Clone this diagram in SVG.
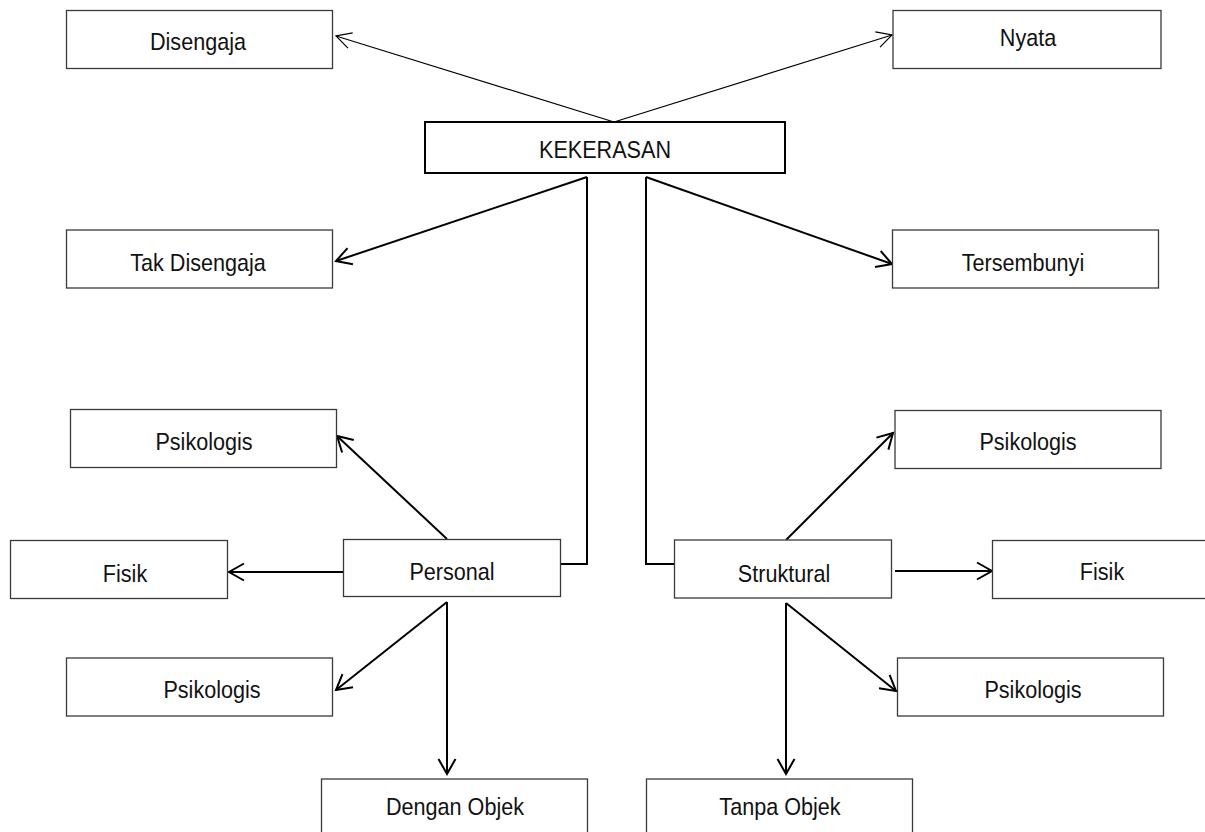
<svg xmlns="http://www.w3.org/2000/svg" width="1205" height="832" viewBox="0 0 1205 832">
<style>
.box{fill:#fff;stroke:#3a3a3a;stroke-width:1.3}
.main{fill:#fff;stroke:#000;stroke-width:2}
.t{font-family:"Liberation Sans",Arial,sans-serif;font-size:24px;fill:#111;text-anchor:middle}
.thin{fill:none;stroke:#000;stroke-width:1.2;marker-end:url(#ah1)}
.thick{fill:none;stroke:#000;stroke-width:2;marker-end:url(#ah2)}
.elbow{fill:none;stroke:#000;stroke-width:2}
</style>
<defs>
<marker id="ah1" markerUnits="userSpaceOnUse" markerWidth="22" markerHeight="22" viewBox="0 0 22 22" refX="18" refY="11" orient="auto">
<path d="M3,3 L18,11 L3,19" fill="none" stroke="#000" stroke-width="1.2"/>
</marker>
<marker id="ah2" markerUnits="userSpaceOnUse" markerWidth="22" markerHeight="22" viewBox="0 0 22 22" refX="18" refY="11" orient="auto">
<path d="M3,2.5 L18,11 L3,19.5" fill="none" stroke="#000" stroke-width="2"/>
</marker>
</defs>
<rect width="1205" height="832" fill="#fff"/>
<g id="connectors">
<path class="thin" d="M614,122 L336,36"/>
<path class="thin" d="M614,122 L892,35"/>
<path class="thick" d="M587,177 L336,261"/>
<path class="thick" d="M646,177 L892,264"/>
<path class="elbow" d="M587,177 L587,564 L561,564"/>
<path class="elbow" d="M646,177 L646,564 L675,564"/>
<path class="thick" d="M447,539 L337,436"/>
<path class="thick" d="M343,572 L229,572"/>
<path class="thick" d="M447,602 L336,690"/>
<path class="thick" d="M447,602 L447,774"/>
<path class="thick" d="M786,540 L893,433"/>
<path class="thick" d="M895,571 L992,571"/>
<path class="thick" d="M786,603 L896,691"/>
<path class="thick" d="M786,603 L786,774"/>
</g>
<g id="disengaja"><rect class="box" x="66.5" y="10.5" width="266" height="58"/><text class="t" transform="translate(198 50) scale(0.9 1)">Disengaja</text></g>
<g id="nyata"><rect class="box" x="893" y="10.5" width="268" height="58"/><text class="t" transform="translate(1028 46) scale(0.9 1)">Nyata</text></g>
<g id="kekerasan"><rect class="main" x="425" y="122" width="360" height="51"/><text class="t" transform="translate(605 158) scale(0.9 1)">KEKERASAN</text></g>
<g id="tak-disengaja"><rect class="box" x="66.5" y="230" width="266" height="58"/><text class="t" transform="translate(198 271) scale(0.9 1)">Tak Disengaja</text></g>
<g id="tersembunyi"><rect class="box" x="892.5" y="230" width="266" height="58"/><text class="t" transform="translate(1023 271) scale(0.9 1)">Tersembunyi</text></g>
<g id="psikologis-tl"><rect class="box" x="70.5" y="409.5" width="266" height="58"/><text class="t" transform="translate(204 450) scale(0.9 1)">Psikologis</text></g>
<g id="fisik-l"><rect class="box" x="10.5" y="540.5" width="217" height="58"/><text class="t" transform="translate(125 582) scale(0.9 1)">Fisik</text></g>
<g id="personal"><rect class="box" x="343.5" y="539.5" width="217" height="57"/><text class="t" transform="translate(452 580) scale(0.9 1)">Personal</text></g>
<g id="psikologis-bl"><rect class="box" x="66.5" y="658" width="266" height="58"/><text class="t" transform="translate(212 698) scale(0.9 1)">Psikologis</text></g>
<g id="dengan-objek"><rect class="box" x="321.5" y="779" width="266" height="62"/><text class="t" transform="translate(455 815) scale(0.9 1)">Dengan Objek</text></g>
<g id="psikologis-tr"><rect class="box" x="895" y="410.5" width="266" height="58"/><text class="t" transform="translate(1028 450) scale(0.9 1)">Psikologis</text></g>
<g id="struktural"><rect class="box" x="674.5" y="540" width="217" height="58"/><text class="t" transform="translate(784 582) scale(0.9 1)">Struktural</text></g>
<g id="fisik-r"><rect class="box" x="992.5" y="540.5" width="222" height="58"/><text class="t" transform="translate(1102 580) scale(0.9 1)">Fisik</text></g>
<g id="psikologis-br"><rect class="box" x="897.5" y="658" width="266" height="58"/><text class="t" transform="translate(1033 698) scale(0.9 1)">Psikologis</text></g>
<g id="tanpa-objek"><rect class="box" x="646.5" y="779" width="266" height="62"/><text class="t" transform="translate(780 815) scale(0.9 1)">Tanpa Objek</text></g>
</svg>
